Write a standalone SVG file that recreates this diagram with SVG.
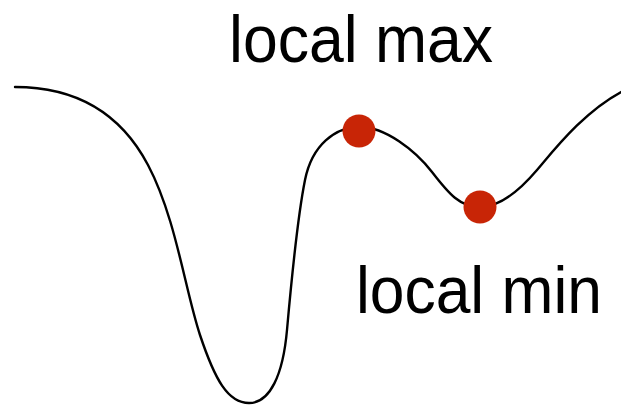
<svg xmlns="http://www.w3.org/2000/svg" width="621" height="407" viewBox="0 0 621 407">
<style>
.curve{fill:none;stroke:#000;stroke-width:2.4;stroke-linecap:round}
.dot{fill:#c82506}
.lbl{font-family:"Liberation Sans",Arial,sans-serif;font-size:66px;fill:#000}
</style>
<rect width="621" height="407" fill="#fff"/>
<g id="connectors">
<path class="curve" d="M15,87 C75,87 120,112 148,165 S185,290 200,335 S228,403 249,403 S283,375 287,330 S298,215 305,180 S335,127 360,127 S415,150 432,172 S460,207 480,207 S520,190 537,170 S585,110 625,90"/>
</g>
<g id="local-max">
<circle class="dot" cx="359" cy="131" r="16.5"/>
<text class="lbl" x="229" y="62" textLength="264" lengthAdjust="spacingAndGlyphs">local max</text>
</g>
<g id="local-min">
<circle class="dot" cx="480" cy="207" r="16.5"/>
<text class="lbl" x="356" y="313" textLength="246" lengthAdjust="spacingAndGlyphs">local min</text>
</g>
</svg>
